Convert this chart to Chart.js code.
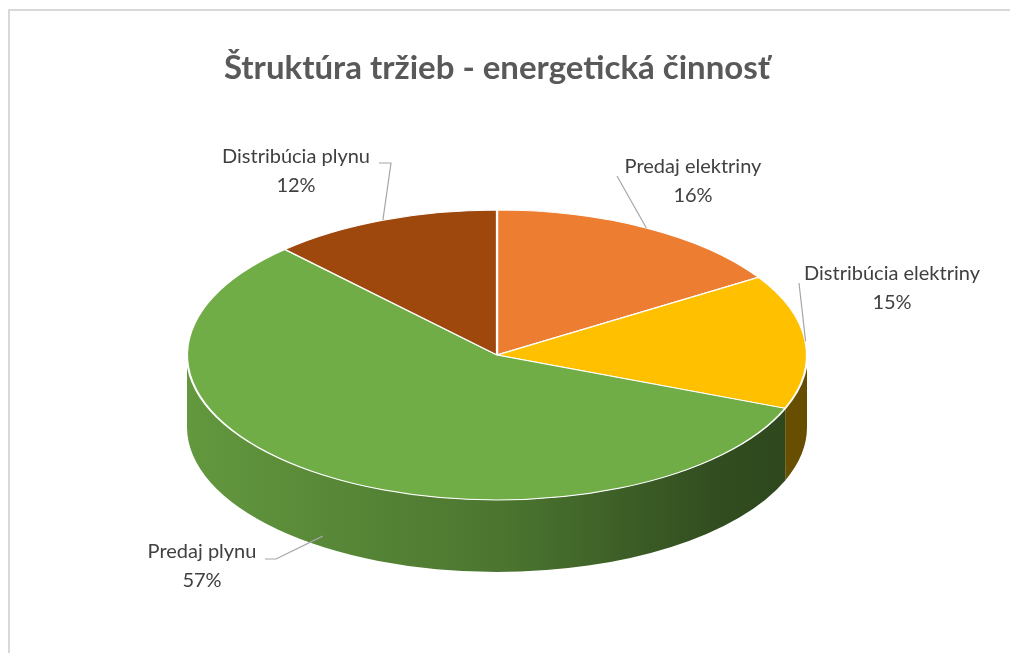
<!DOCTYPE html>
<html lang="sk">
<head>
  <meta charset="UTF-8">
  <title>Štruktúra tržieb - energetická činnosť</title>
  <script src="https://cdn.jsdelivr.net/npm/chart.js"></script>
  <style>
    html, body { margin: 0; padding: 0; background: #ffffff; overflow: hidden; }
    canvas { display: block; }
  </style>
</head>
<body>
  <canvas id="pieChart" width="1010" height="653"></canvas>

  <script>
    // Data
    const chartTitle = 'Štruktúra tržieb - energetická činnosť';
    const categories = ['Predaj elektriny', 'Distribúcia elektriny', 'Predaj plynu', 'Distribúcia plynu'];
    const shares = [16, 15, 57, 12];
    const sliceColors = ['#ED7D31', '#FFC000', '#70AD47', '#9E480E'];

    // Geometry of the tilted pie on screen
    const CX = 497, CY = 355, RX = 310, RY = 145, DEPTH = 72;

    // Where each label text sits (centre of first line) and where its leader starts
    const labelPlaces = [
      { x: 693, y: 167, path: [[617, 176]] },
      { x: 892, y: 274, path: [[799, 283]] },
      { x: 202, y: 552, path: [[265, 559], [276, 559]] },
      { x: 296, y: 157, path: [[379, 163], [391, 163]] }
    ];

    function shade(hex, f) {
      const n = parseInt(hex.slice(1), 16);
      const r = Math.round(((n >> 16) & 255) * f);
      const g = Math.round(((n >> 8) & 255) * f);
      const b = Math.round((n & 255) * f);
      return 'rgb(' + r + ',' + g + ',' + b + ')';
    }

    // chart frame: only the top and left edges fall inside the picture
    const framePlugin = {
      id: 'frame',
      beforeDraw(chart) {
        const ctx = chart.ctx;
        ctx.save();
        ctx.fillStyle = '#ffffff';
        ctx.fillRect(0, 0, chart.width, chart.height);
        ctx.strokeStyle = '#d9d9d9';
        ctx.lineWidth = 2;
        ctx.beginPath();
        ctx.moveTo(9, chart.height + 5);
        ctx.lineTo(9, 10);
        ctx.lineTo(chart.width + 5, 10);
        ctx.stroke();
        ctx.restore();
      }
    };

    const pie3d = {
      id: 'pie3d',
      beforeDatasetsDraw(chart) {
        const ctx = chart.ctx;
        const arcs = chart.getDatasetMeta(0).data;

        // side walls of the front half
        arcs.forEach((arc, i) => {
          const lo = Math.max(arc.startAngle, 0);
          const hi = Math.min(arc.endAngle, Math.PI);
          if (hi <= lo) return;
          const grad = ctx.createLinearGradient(CX - RX, 0, CX + RX, 0);
          grad.addColorStop(0, shade(sliceColors[i], 0.88));
          grad.addColorStop(0.5, shade(sliceColors[i], 0.68));
          grad.addColorStop(0.85, shade(sliceColors[i], 0.45));
          grad.addColorStop(1, shade(sliceColors[i], 0.40));
          ctx.save();
          ctx.beginPath();
          ctx.ellipse(CX, CY, RX, RY, 0, lo, hi);
          ctx.ellipse(CX, CY + DEPTH, RX, RY, 0, hi, lo, true);
          ctx.closePath();
          ctx.fillStyle = grad;
          ctx.fill();
          ctx.restore();
        });

        // squash the pie drawn by Chart.js into the top face
        const a = arcs[0];
        ctx.save();
        ctx.translate(CX, CY);
        ctx.scale(RX / a.outerRadius, RY / a.outerRadius);
        ctx.translate(-a.x, -a.y);
      },
      afterDatasetsDraw(chart) {
        const ctx = chart.ctx;
        ctx.restore();

        const arcs = chart.getDatasetMeta(0).data;
        const total = shares.reduce((s, v) => s + v, 0);
        ctx.save();
        arcs.forEach((arc, i) => {
          const mid = (arc.startAngle + arc.endAngle) / 2;
          let ax = CX + RX * Math.cos(mid);
          let ay = CY + RY * Math.sin(mid);
          if (Math.sin(mid) > 0.5) ay += DEPTH * 0.85;
          const place = labelPlaces[i];

          // leader line
          ctx.strokeStyle = '#a6a6a6';
          ctx.lineWidth = 1.2;
          ctx.beginPath();
          ctx.moveTo(place.path[0][0], place.path[0][1]);
          for (let k = 1; k < place.path.length; k++) ctx.lineTo(place.path[k][0], place.path[k][1]);
          ctx.lineTo(ax, ay);
          ctx.stroke();

          // label text
          ctx.fillStyle = '#404040';
          ctx.font = '20px Lato';
          ctx.textAlign = 'center';
          ctx.textBaseline = 'middle';
          ctx.fillText(categories[i], place.x, place.y);
          ctx.fillText(Math.round(shares[i] / total * 100) + '%', place.x, place.y + 29);
        });
        ctx.restore();
      }
    };

    const ctx = document.getElementById('pieChart').getContext('2d');
    const pieChart = new Chart(ctx, {
      type: 'pie',
      data: {
        labels: categories,
        datasets: [{
          data: shares,
          backgroundColor: sliceColors,
          borderColor: '#ffffff',
          borderWidth: 2,
          clip: false
        }]
      },
      options: {
        responsive: false,
        animation: false,
        devicePixelRatio: 1,
        layout: { padding: { right: 16 } },
        plugins: {
          legend: { display: false },
          tooltip: { enabled: false },
          title: {
            display: true,
            text: chartTitle,
            color: '#595959',
            font: { family: 'Lato', size: 33, weight: 'bold' },
            padding: { top: 49, bottom: 10 }
          }
        }
      },
      plugins: [framePlugin, pie3d]
    });
  </script>
</body>
</html>
